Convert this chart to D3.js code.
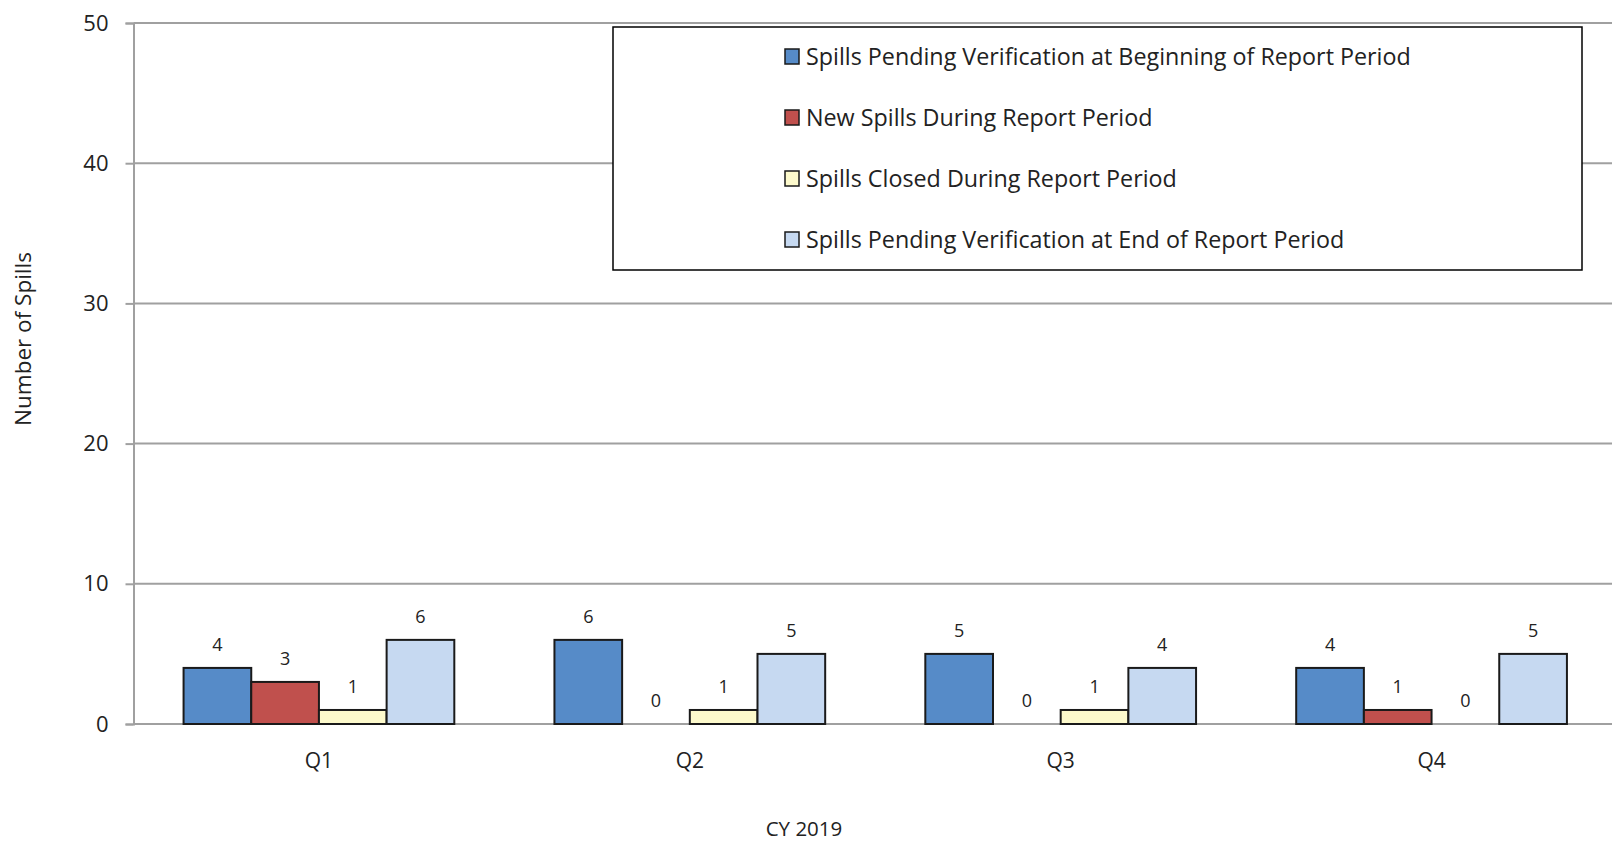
<!DOCTYPE html>
<html>
<head>
<meta charset="utf-8">
<script src="https://cdn.jsdelivr.net/npm/d3@7"></script>
<style>
  body { margin: 0; background: #fff; }
  svg { display: block; font-family: 'Open Sans', sans-serif; }
</style>
</head>
<body>
<div class="canvas"></div>
<script>
// data
const quarters = ['Q1', 'Q2', 'Q3', 'Q4'];
const seriesNames = [
    'Spills Pending Verification at Beginning of Report Period',
    'New Spills During Report Period',
    'Spills Closed During Report Period',
    'Spills Pending Verification at End of Report Period'
];
const pendingStart = [4, 6, 5, 4];
const newSpills = [3, 0, 0, 1];
const closedSpills = [1, 1, 1, 0];
const pendingEnd = [6, 5, 4, 5];
const yTicks = [0, 10, 20, 30, 40, 50];
const colors = ['#568bc8', '#c0504d', '#fdfacc', '#c6d9f1'];

const seriesValues = [pendingStart, newSpills, closedSpills, pendingEnd];

// svg
const width = 1612, height = 841;
const svg = d3.select('.canvas')
    .append('svg')
    .attr('width', width)
    .attr('height', height);

// scales
const plotLeft = 133.5, plotRight = 1617;
const yScale = d3.scaleLinear()
    .domain([0, 50])
    .range([724, 23]);

const xScale = d3.scaleBand()
    .domain(quarters)
    .range([plotLeft, plotRight])
    .paddingInner(0.27)
    .paddingOuter(0.135);

const xSub = d3.scaleBand()
    .domain(d3.range(seriesNames.length))
    .range([0, xScale.bandwidth()]);

// gridlines
svg.append('g')
    .selectAll('line')
    .data(yTicks)
    .enter()
    .append('line')
    .attr('x1', plotLeft)
    .attr('x2', width)
    .attr('y1', d => yScale(d))
    .attr('y2', d => yScale(d))
    .attr('stroke', '#a0a0a0')
    .attr('stroke-width', 2);

// y axis
const yAxis = d3.axisLeft(yScale)
    .tickValues(yTicks)
    .tickSize(8)
    .tickPadding(17);

const yG = svg.append('g')
    .attr('transform', `translate(${plotLeft},0)`)
    .call(yAxis);
yG.select('.domain').attr('stroke', '#a0a0a0').attr('stroke-width', 2);
yG.selectAll('.tick line').attr('stroke', '#a0a0a0').attr('stroke-width', 2);
yG.selectAll('.tick text')
    .attr('font-size', 22)
    .attr('fill', '#222')
    .attr('font-family', 'Open Sans');

// x axis labels
svg.append('g')
    .selectAll('text')
    .data(quarters)
    .enter()
    .append('text')
    .attr('x', d => xScale(d) + xScale.bandwidth() / 2)
    .attr('y', 768)
    .attr('text-anchor', 'middle')
    .attr('font-size', 21)
    .attr('fill', '#222')
    .text(d => d);

// bars
const groups = svg.selectAll('g.quarter')
    .data(quarters)
    .enter()
    .append('g')
    .attr('class', 'quarter')
    .attr('transform', d => `translate(${xScale(d)},0)`);

groups.selectAll('rect')
    .data((q, qi) => seriesValues.map((vals, si) => ({ si, v: vals[qi] })).filter(d => d.v > 0))
    .enter()
    .append('rect')
    .attr('x', d => xSub(d.si))
    .attr('width', xSub.bandwidth())
    .attr('y', d => yScale(d.v))
    .attr('height', d => yScale(0) - yScale(d.v))
    .attr('fill', d => colors[d.si])
    .attr('stroke', '#1a1a1a')
    .attr('stroke-width', 2);

// data labels
groups.selectAll('text.val')
    .data((q, qi) => seriesValues.map((vals, si) => ({ si, v: vals[qi] })))
    .enter()
    .append('text')
    .attr('class', 'val')
    .attr('x', d => xSub(d.si) + xSub.bandwidth() / 2)
    .attr('y', d => yScale(d.v) - 17)
    .attr('text-anchor', 'middle')
    .attr('font-size', 18)
    .attr('fill', '#222')
    .text(d => d.v);

// axis titles
svg.append('text')
    .attr('transform', 'translate(31,339) rotate(-90)')
    .attr('text-anchor', 'middle')
    .attr('font-size', 22.5)
    .attr('fill', '#222')
    .text('Number of Spills');

svg.append('text')
    .attr('x', 804)
    .attr('y', 836)
    .attr('text-anchor', 'middle')
    .attr('font-size', 20.5)
    .attr('fill', '#222')
    .text('CY 2019');

// legend
const legend = svg.append('g');
legend.append('rect')
    .attr('x', 613)
    .attr('y', 27)
    .attr('width', 969)
    .attr('height', 243)
    .attr('fill', '#fff')
    .attr('stroke', '#000')
    .attr('stroke-width', 1.5);

const items = legend.selectAll('g.item')
    .data(seriesNames)
    .enter()
    .append('g')
    .attr('class', 'item')
    .attr('transform', (d, i) => `translate(785,${56.5 + i * 61})`);

items.append('rect')
    .attr('x', 0)
    .attr('y', -7.5)
    .attr('width', 14)
    .attr('height', 15)
    .attr('fill', (d, i) => colors[i])
    .attr('stroke', '#1a1a1a')
    .attr('stroke-width', 1.5);

items.append('text')
    .attr('x', 21)
    .attr('y', 8)
    .attr('font-size', 23.3)
    .attr('fill', '#222')
    .text(d => d);
</script>
</body>
</html>
